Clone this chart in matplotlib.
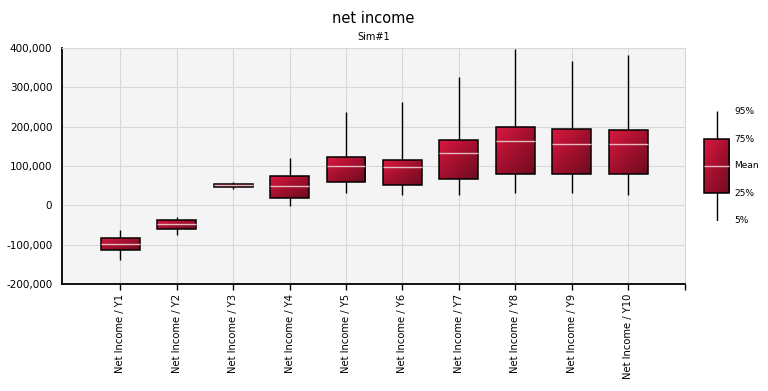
import numpy as np
import matplotlib
matplotlib.use("Agg")
import matplotlib.pyplot as plt
from matplotlib.patches import Rectangle
from matplotlib.colors import LinearSegmentedColormap
from matplotlib.ticker import FuncFormatter

# data
labels = ["Net Income / Y%d" % i for i in range(1, 11)]
p5 = [-139000, -75000, 42000, -1000, 30000, 27000, 27000, 32000, 30000, 27000]
p25 = [-115000, -60000, 47000, 18000, 59000, 51000, 66000, 79000, 79000, 79000]
mean = [-99000, -48000, 51000, 48000, 99000, 97000, 133000, 164000, 156000, 156000]
p75 = [-84000, -38000, 54000, 74000, 122000, 115000, 166000, 199000, 194000, 191000]
p95 = [-63000, -31000, 59000, 121000, 238000, 263000, 327000, 398000, 368000, 383000]

cmap = LinearSegmentedColormap.from_list("red", ["#dc1840", "#a3102e", "#6e0c20"])
grad = np.add.outer(np.linspace(0, 1, 50), np.linspace(0, 1, 50)) / 2


def gradient_box(ax, x0, y0, w, h):
    rect = Rectangle((x0, y0), w, h, facecolor="none", edgecolor="black", lw=1.1, zorder=4)
    ax.add_patch(rect)
    im = ax.imshow(grad, cmap=cmap, extent=(x0, x0 + w, y0, y0 + h), origin="upper",
                   aspect="auto", zorder=3, interpolation="bilinear")
    im.set_clip_path(rect)


fig = plt.figure(figsize=(7.68, 3.91), dpi=100)
ax = fig.add_axes([0.0807, 0.274, 0.811, 0.603])
ax.set_facecolor("#f4f4f4")

x = np.arange(1, len(labels) + 1)
bw = 0.69
for i in range(len(labels)):
    ax.vlines(x[i], p5[i], p95[i], color="black", lw=1.0, zorder=2)
    gradient_box(ax, x[i] - bw / 2, p25[i], bw, p75[i] - p25[i])
    ax.hlines(mean[i], x[i] - bw / 2, x[i] + bw / 2, color="#e8b8c0", lw=1, zorder=5)

ax.set_xlim(-0.03, 11.0)
ax.set_ylim(-200000, 400000)
ax.set_yticks(np.arange(-200000, 400001, 100000))
ax.yaxis.set_major_formatter(FuncFormatter(lambda v, p: "{:,.0f}".format(v)))
ax.set_xticks(list(x) + [11.0])
ax.set_xticklabels(labels + [""], rotation=90, fontsize=7.2)
ax.tick_params(axis="y", labelsize=7.5, length=0, pad=7)
ax.tick_params(axis="x", length=4, width=1, pad=3)
ax.grid(True, color="#d8d8d8", lw=0.8)
ax.set_axisbelow(True)
for s in ["top", "right"]:
    ax.spines[s].set_color("#d8d8d8")
for s in ["left", "bottom"]:
    ax.spines[s].set_linewidth(1.3)

fig.text(0.486, 0.952, "net income", ha="center", va="center", fontsize=10.5)
fig.text(0.486, 0.905, "Sim#1", ha="center", va="center", fontsize=7)

# legend key on the right
lg = fig.add_axes([0.9, 0.4348, 0.1, 0.2813])
lg.axis("off")
lg.vlines(0.332, 0.0, 1.0, color="black", lw=1.0, zorder=2)
gradient_box(lg, 0.169, 0.2545, 0.326, 0.4905)
lg.hlines(0.5, 0.169, 0.495, color="#e8b8c0", lw=1, zorder=5)
lg.set_xlim(0, 1)
lg.set_ylim(0, 1)
for yy, t in zip([1.0, 0.745, 0.5, 0.2545, 0.0], ["95%", "75%", "Mean", "25%", "5%"]):
    lg.text(0.56, yy, t, fontsize=6.5, va="center", ha="left")

fig.savefig("out.png", dpi=100)
